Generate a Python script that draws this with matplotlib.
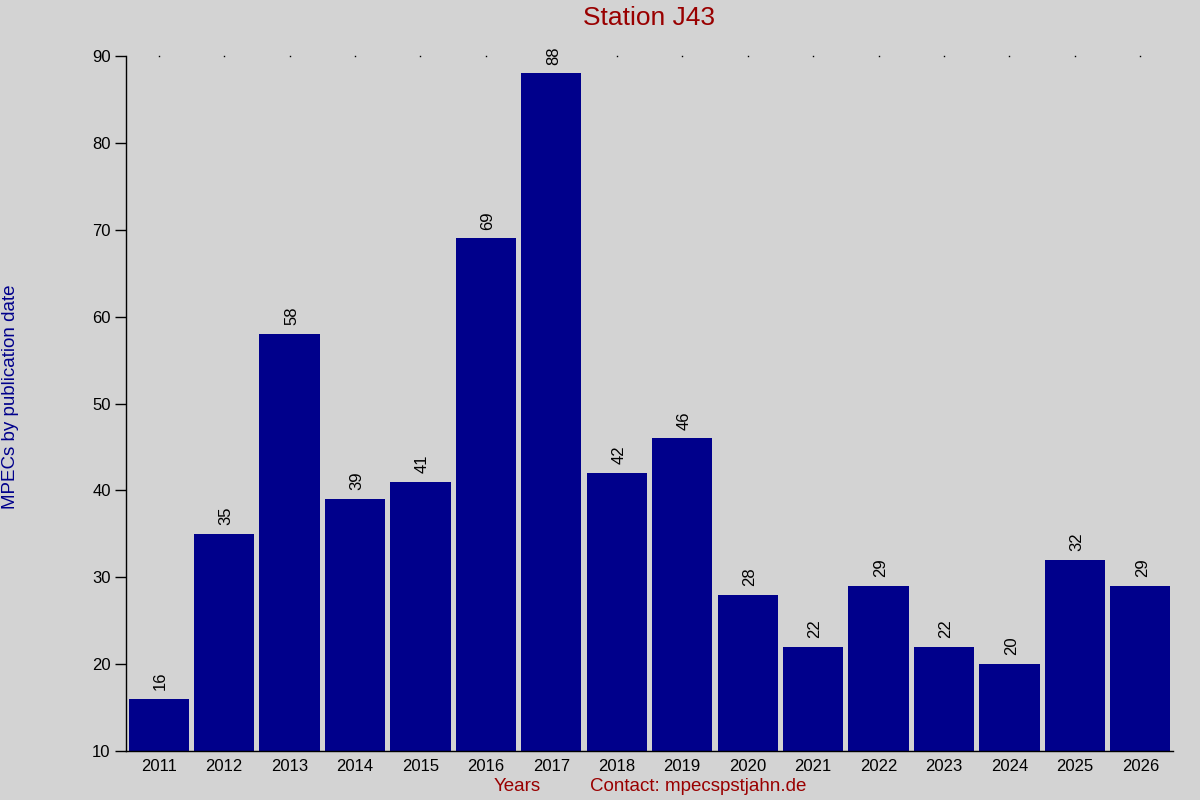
import matplotlib
matplotlib.use('Agg')
import matplotlib.pyplot as plt
import numpy as np

plt.rcParams['font.family'] = ['Liberation Sans', 'DejaVu Sans']

# MPECs per year for station J43
years = ['2011', '2012', '2013', '2014', '2015', '2016', '2017', '2018',
         '2019', '2020', '2021', '2022', '2023', '2024', '2025', '2026']
counts = [16, 35, 58, 39, 41, 69, 88, 42, 46, 28, 22, 29, 22, 20, 32, 29]
yticks = [10, 20, 30, 40, 50, 60, 70, 80, 90]

bg = '#d3d3d3'
bar_col = '#00008b'
red = '#990000'

fig = plt.figure(figsize=(12, 8), dpi=100, facecolor=bg)
ax = fig.add_axes([0.105, 0.06125, 0.8725, 0.86875])
ax.set_facecolor(bg)

x = np.arange(len(years))

# little dots along the top line (hidden where a label sits on them)
ax.plot(x, [90] * len(x), linestyle='none', marker='s', markersize=1.0, markeredgewidth=0,
        color='black', clip_on=False, zorder=1)

ax.bar(x, [c - 10 for c in counts], bottom=10, width=0.92, color=bar_col, zorder=2)
for xi, c in zip(x, counts):
    ax.text(xi + 0.03, c + 1.0, str(c), rotation=90, ha='center', va='bottom', fontsize=12,
            color='black', zorder=3,
            bbox=dict(facecolor=bg, edgecolor='none', pad=0.5) if c > 85 else None)

ax.set_xlim(-0.5, len(years) - 0.5)
ax.set_ylim(10, 90)
ax.set_xticks(x)
ax.set_xticklabels(years, fontsize=12)
ax.set_yticks(yticks)
ax.tick_params(axis='x', length=0, pad=6)
ax.tick_params(axis='y', direction='out', length=8, width=1, labelsize=12, pad=3)

for s in ['top', 'right']:
    ax.spines[s].set_visible(False)
ax.spines['left'].set_linewidth(1)
ax.spines['bottom'].set_linewidth(1)

fig.text(0.541, 0.977, 'Station J43', ha='center', va='center', fontsize=19, color=red)
fig.text(0.009, 0.504, 'MPECs by publication date', rotation=90, ha='center', va='center',
         fontsize=13.5, color=bar_col)
fig.text(0.431, 0.017, 'Years', ha='center', va='center', fontsize=13.5, color=red)
fig.text(0.582, 0.017, 'Contact: mpecspstjahn.de', ha='center', va='center', fontsize=13.5, color=red)

fig.savefig('out.png', dpi=100, facecolor=bg)
